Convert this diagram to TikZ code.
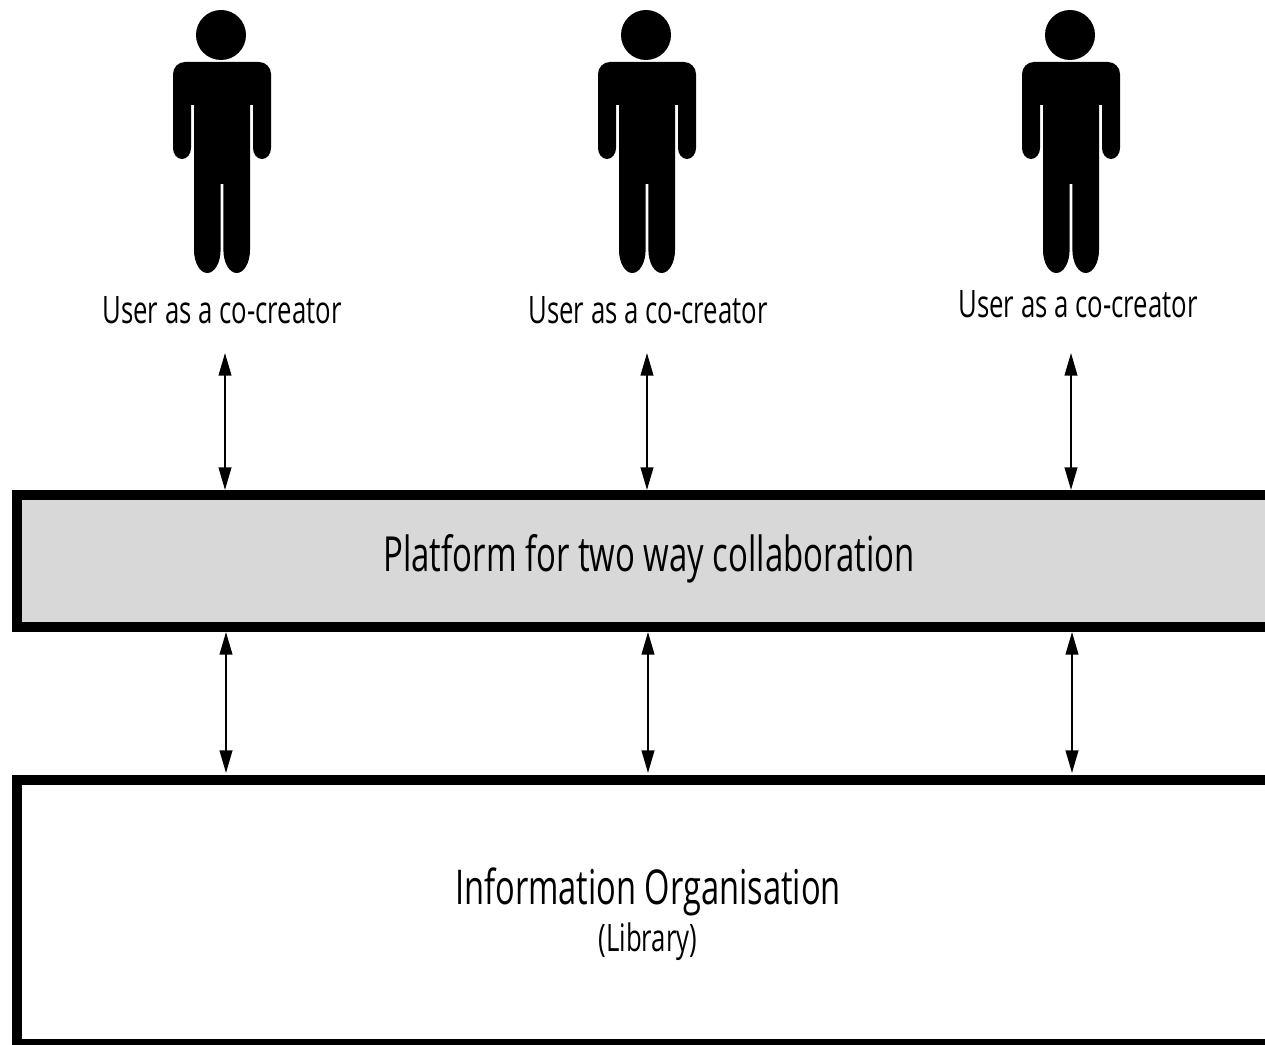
\documentclass[tikz,border=0pt]{standalone}
\usepackage{fontspec}
\setmainfont{Open Sans}[FakeStretch=0.68]
\usetikzlibrary{arrows.meta}
\definecolor{platformgray}{HTML}{D8D8D8}
\tikzset{
  layerbox/.style={draw=black,line width=7.5pt,minimum width=948pt,inner sep=0pt},
  userlabel/.style={font=\fontsize{28.4pt}{34pt}\selectfont,inner sep=0pt},
  twoway/.style={{Triangle[length=17pt,width=9.5pt]}-{Triangle[length=17pt,width=9.5pt]},line width=1.5pt},
  person/.pic={
    \fill (-1,35) circle (25);
    \fill (-37,62) -- (37,62) arc (-90:0:12) -- (49,148) arc (0:180:9 and 11) -- (31,105) -- (28,105)
      -- (28,250) arc (0:180:13.3 and 23) -- (1.4,184) -- (-1.4,184) -- (-1.4,250) arc (0:180:13.3 and 23)
      -- (-28,105) -- (-31,105) -- (-31,148) arc (0:180:9 and 11) -- (-49,74) arc (180:270:12) -- cycle;
  }
}
\begin{document}
\begin{tikzpicture}[x=0.75pt,y=-0.75pt]
  \useasboundingbox (0,0) rectangle (1265,1045);
  % Users
  \pic at (222,0) {person};
  \pic at (647,0) {person};
  \pic at (1071,0) {person};
  \node[userlabel] (user1) at (222,310) {User as a co-creator};
  \node[userlabel] (user2) at (648,310) {User as a co-creator};
  \node[userlabel] (user3) at (1078,304) {User as a co-creator};
  % Layers
  \node[layerbox,fill=platformgray,minimum height=99pt,text depth=12pt,font=\fontsize{36.3pt}{43pt}\selectfont] (platform) at (649,561) {Platform for two way collaboration};
  \node[layerbox,minimum height=198pt] (library) at (649,912) {};
  \node[font=\fontsize{36pt}{43pt}\selectfont,inner sep=0pt] (infotitle) at (648,892) {Information Organisation};
  \node[userlabel] (infosub) at (648,942) {(Library)};
  % Arrow ends
  \coordinate (top1) at (225,353);
  \coordinate (top2) at (647,353);
  \coordinate (top3) at (1071,353);
  \coordinate (low1) at (226,773);
  \coordinate (low2) at (648,773);
  \coordinate (low3) at (1072,773);
  % Arrows
  \draw[twoway] (top1) -- (platform.north -| top1);
  \draw[twoway] (top2) -- (platform.north -| top2);
  \draw[twoway] (top3) -- (platform.north -| top3);
  \draw[twoway] (platform.south -| low1) -- (low1);
  \draw[twoway] (platform.south -| low2) -- (low2);
  \draw[twoway] (platform.south -| low3) -- (low3);
\end{tikzpicture}
\end{document}
